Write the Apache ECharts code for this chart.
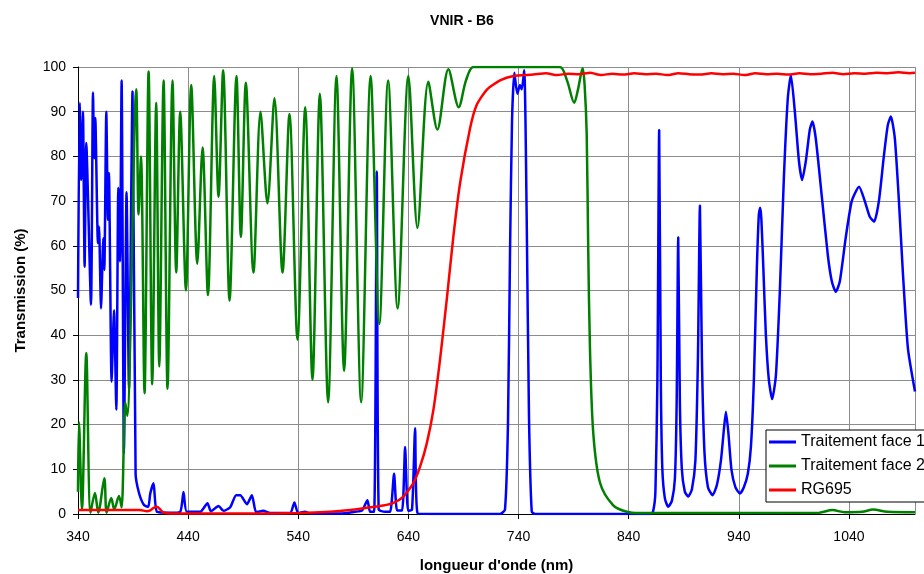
<!DOCTYPE html>
<html>
<head>
<meta charset="utf-8">
<script src="https://cdn.jsdelivr.net/npm/echarts@6/dist/echarts.min.js"></script>
<style>html,body{margin:0;padding:0;background:#fff}#c{width:924px;height:574px}</style>
</head>
<body>
<div id="c"></div>
<script>
// Wavelength ticks
const xTicks = [340, 440, 540, 640, 740, 840, 940, 1040];
const yTicks = [0, 10, 20, 30, 40, 50, 60, 70, 80, 90, 100];

// Traitement face 1 (blue)
const face1Nm = [340.0,341.5,343.0,344.5,346.0,347.5,351.8,353.6,354.8,355.7,358.1,359.1,360.9,363.0,363.9,365.7,367.2,368.1,370.5,372.7,374.8,376.6,378.1,379.6,381.7,384.1,386.3,389.5,392.3,395.4,399.9,403.8,405.6,408.6,411.7,423.8,432.8,435.8,438.8,451.0,457.6,460.7,467.6,472.1,478.2,483.6,487.3,493.4,497.9,501.8,508.2,514.5,532.6,536.5,539.9,546.2,550.8,578.0,591.6,598.0,602.8,605.2,608.9,611.3,613.0,618.8,623.4,627.0,629.7,634.3,637.0,639.7,643.3,646.1,648.3,659.7,723.2,727.7,730.4,732.3,734.1,736.2,738.9,741.3,742.9,745.2,747.4,749.5,752.0,755.0,
  859.4,862.1,864.3,866.1,867.7,869.2,870.6,872.9,875.9,879.3,882.0,883.6,885.0,886.5,888.3,891.0,894.1,897.4,900.6,902.9,904.7,906.5,908.8,912.0,916.2,920.1,923.8,926.5,928.3,930.6,933.3,936.9,941.0,944.6,948.2,951.0,953.7,956.4,958.2,959.4,960.5,962.3,964.6,967.3,970.3,973.7,977.3,980.9,984.5,987.3,990.9,994.6,997.5,1000.9,1004.5,1006.9,1009.9,1015.4,1020.8,1024.5,1028.1,1031.7,1037.2,1042.6,1049.2,1054.4,1058.9,1062.9,1067.2,1071.7,1075.3,1078.1,1081.7,1085.4,1089.0,1093.6,1100.0];
const face1Val = [48.3,92,74.7,90,55.3,83,46.8,94.3,79.6,88.6,60.6,64.3,46,61.7,54.6,90,65.8,76.3,29.6,45.6,23.3,73,56.5,97,13.6,72,28,94.5,9,4.7,2,1.6,4.6,6.9,0.5,0.3,0.5,4.9,0.5,0.5,2.4,0.6,1.8,0.7,1.5,4.2,4.2,2.2,4.2,0.4,0.7,0.2,0.2,2.6,0.2,0.5,0.1,0.1,0.5,0.8,3.1,0.5,0.5,76.6,1,0.5,0.5,9,0.8,0.8,15,0.7,1,19.2,0.2,0,0,1,20,59,88,98.7,94,96,95,99.3,66.5,21.8,0.5,0,
  0,0.5,5,30,85.9,30,10,3.5,1.6,3,8,25,61.9,25,10,5,3.9,5.5,12,35,69,35,14,6,4.2,6.5,12,19,22.9,18,10,6,4.6,6,9,15,30,55,67,68.5,66,55,40,30,25.7,31,50,75,93,98.2,90,79,74.7,79,86,87.8,84,71,58,52,49.7,52,62,70,73.2,70,66.5,65.4,70,80,87,88.9,84,70,54,37,27.4];

// Traitement face 2 (green)
const face2Nm = [340.0,340.9,343.6,347.5,351.4,355.4,358.4,363.9,366.0,370.2,372.9,377.2,379.6,382.9,384.7,392.9,395.0,397.2,400.4,404.1,407.4,411.0,413.8,417.7,421.3,425.8,429.2,432.8,438.0,442.8,448.3,453.1,458.0,463.7,467.6,471.8,477.6,483.9,487.9,492.4,499.3,505.7,512.0,518.4,525.7,532.0,539.3,546.3,552.9,559.6,567.1,574.7,581.6,588.9,597.1,605.7,613.6,621.6,630.2,640.0,648.2,658.1,666.3,676.3,685.7,692.3,699.0,720,750,777.6,784.0,790.6,794.0,798.2,800.0,801.9,803.3,804.9,807.9,814.0,825.8,838.2,850,1013,1025,1036,1052,1062,1075,1100];
const face2Val = [5,20.5,1,36,0.3,4.7,0.3,8,0.3,3.6,1,4,1.5,25,22,95,67,80,27,99,29,92,33,97,28,97,54,90,50,96,56,82,49,98,71,99.3,47.7,98,62,96.5,54,90,69.5,93,54,89.5,39,91,30,94,25,98,32,99.7,25,98,42.5,97,46,98,64,96.7,86,99.5,91,97,100,100,100,100,97,92,95,99.7,96,85,59,36.7,18,7,2,0.5,0.2,0.3,0.9,0.4,0.5,1.0,0.5,0.4];

// RG695 (red)
const rgNm = [340,396.5,402.6,405.6,408.3,411.7,414.7,417.7,423.8,496.3,541.7,569,587.1,602.2,617,626.4,635.5,644.5,650.6,656.7,662.7,668.7,674.8,680.8,686.9,696,702,711.1,723.2,735.3,753.4,765,775,785,795,805,815,825,835,845,855,865,875,885,895,905,915,925,935,945,955,965,975,985,995,1005,1015,1025,1035,1045,1055,1065,1075,1085,1095,1100];
const rgVal = [0.9,0.9,0.6,0.8,1.3,1.6,1.0,0.3,0.1,0.1,0.2,0.5,0.9,1.4,1.9,2.5,3.9,6.9,10.6,15.8,23.3,34.5,47.9,62,74,86.3,91.5,94.9,97,98,98.3,98.6,98.2,98.5,98.4,98.7,98.2,98.5,98.3,98.6,98.4,98.5,98.2,98.6,98.4,98.3,98.6,98.4,98.5,98.2,98.6,98.4,98.5,98.3,98.6,98.4,98.5,98.7,98.4,98.6,98.5,98.7,98.6,98.8,98.6,98.7];

const seriesNames = ['Traitement face 1', 'Traitement face 2', 'RG695'];
const pair = (xs, ys) => xs.map((x, i) => [x, ys[i]]);

const chart = echarts.init(document.getElementById('c'), null, {renderer: 'canvas'});
const font = 'Liberation Sans, Arial, sans-serif';
chart.setOption({
  animation: false,
  backgroundColor: '#fff',
  title: {
    text: 'VNIR - B6', left: 'center', top: 9,
    textStyle: {fontFamily: font, fontSize: 14, fontWeight: 'bold', color: '#000'}
  },
  grid: {left: 78, right: 9, top: 67, bottom: 60, containLabel: false, outerBoundsMode: 'none'},
  legend: {
    orient: 'vertical', left: 766, top: 430,
    data: seriesNames, icon: 'rect',
    backgroundColor: '#fff', borderColor: '#000', borderWidth: 1,
    padding: [4, 6, 4, 3], itemGap: 8, itemWidth: 27, itemHeight: 3,
    textStyle: {fontFamily: font, fontSize: 16, color: '#000'}
  },
  xAxis: {
    type: 'value', min: 340, max: 1100, interval: 100,
    name: "longueur d'onde (nm)", nameLocation: 'middle', nameGap: 44,
    nameTextStyle: {fontFamily: font, fontSize: 15, fontWeight: 'bold', color: '#000'},
    axisLine: {show: true, lineStyle: {color: '#000', width: 1}},
    axisTick: {show: true, length: 5, lineStyle: {color: '#000'}},
    axisLabel: {fontFamily: font, fontSize: 14, color: '#000', margin: 16, showMaxLabel: false,
      formatter: v => xTicks.includes(v) ? String(v) : ''},
    splitLine: {show: true, lineStyle: {color: '#8c8c8c', width: 1}}
  },
  yAxis: {
    type: 'value', min: 0, max: 100, interval: 10,
    name: 'Transmission (%)', nameLocation: 'middle', nameGap: 50, nameRotate: 90,
    nameTextStyle: {fontFamily: font, fontSize: 15, fontWeight: 'bold', color: '#000'},
    axisLine: {show: true, lineStyle: {color: '#000', width: 1}},
    axisTick: {show: true, length: 5, lineStyle: {color: '#000'}},
    axisLabel: {fontFamily: font, fontSize: 14, color: '#000', margin: 12,
      formatter: v => yTicks.includes(v) ? String(v) : ''},
    splitLine: {show: true, lineStyle: {color: '#8c8c8c', width: 1}}
  },
  series: [
    {name: seriesNames[0], type: 'line', data: pair(face1Nm, face1Val), symbol: 'none', smooth: 0.2,
      lineStyle: {color: '#0000ff', width: 2.5}, itemStyle: {color: '#0000ff'}},
    {name: seriesNames[1], type: 'line', data: pair(face2Nm, face2Val), symbol: 'none', smooth: 0.3,
      lineStyle: {color: '#008000', width: 2.5}, itemStyle: {color: '#008000'}},
    {name: seriesNames[2], type: 'line', data: pair(rgNm, rgVal), symbol: 'none', smooth: 0.2,
      lineStyle: {color: '#ff0000', width: 2.5}, itemStyle: {color: '#ff0000'}}
  ]
});
</script>
</body>
</html>
